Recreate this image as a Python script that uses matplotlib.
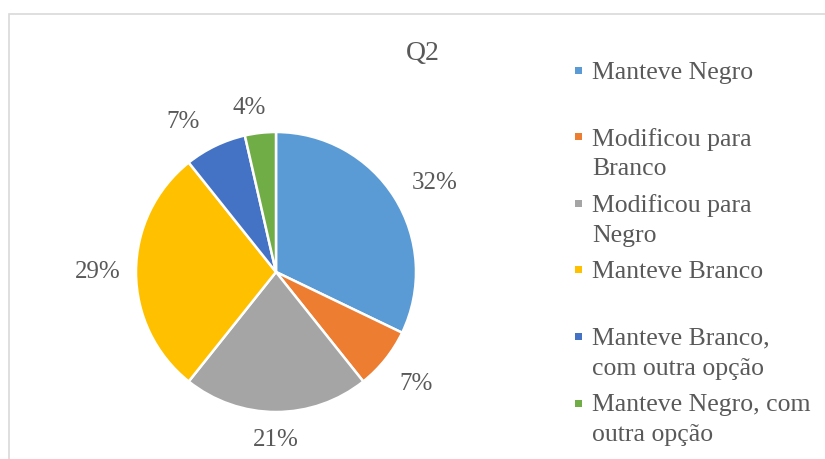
import matplotlib.pyplot as plt
import numpy as np
from matplotlib.patches import Rectangle

labels = ["Manteve Negro", "Modificou para\nBranco", "Modificou para\nNegro",
          "Manteve Branco", "Manteve Branco,\ncom outra opção",
          "Manteve Negro, com\noutra opção"]
counts = [9, 2, 6, 8, 2, 1]
colors = ["#5B9BD5", "#ED7D31", "#A5A5A5", "#FFC000", "#4472C4", "#70AD47"]

# label placement tweaks (distance in radii, angle shift in degrees)
label_dist = [1.30, 1.28, 1.20, 1.27, 1.26, 1.19]
label_shift = [-3, 0, 0, 0, 6, 3]

plt.rcParams['font.family'] = ['Liberation Serif', 'DejaVu Serif']
txt = "#595959"

W, H = 825, 459
fig = plt.figure(figsize=(W / 100, H / 100), dpi=100)

# chart area border (cropped at right and bottom)
fig.patches.append(Rectangle((8.5 / W, -0.1), 1.0, 1 - 14.5 / H + 0.1,
                             transform=fig.transFigure, fill=False,
                             edgecolor="#D9D9D9", linewidth=1.2))

cx, cy, r = 276, 272, 140
half = 150
ax = fig.add_axes([(cx - half) / W, (H - cy - half) / H, 2 * half / W, 2 * half / H])
wedges, _ = ax.pie(counts, colors=colors, startangle=90, counterclock=False,
                   radius=1, wedgeprops=dict(edgecolor="white", linewidth=1.8))
lim = half / r
ax.set_xlim(-lim, lim)
ax.set_ylim(-lim, lim)
ax.set_aspect("equal")

total = sum(counts)
for w, n, d, s in zip(wedges, counts, label_dist, label_shift):
    ang = np.deg2rad((w.theta1 + w.theta2) / 2 + s)
    ax.text(d * np.cos(ang), d * np.sin(ang), f"{round(100 * n / total)}%",
            ha="center", va="center", fontsize=18, color=txt)

fig.text(423 / W, 1 - 53 / H, "Q2", ha="center", va="center", fontsize=20, color=txt)

# legend
y0 = 70
step = 66.6
line_h = 30
for i, (lab, c) in enumerate(zip(labels, colors)):
    y = y0 + i * step
    fig.patches.append(Rectangle(((578 - 3.5) / W, 1 - (y + 3.5) / H), 7 / W, 7 / H,
                                 transform=fig.transFigure, facecolor=c, edgecolor="none"))
    for k, line in enumerate(lab.split("\n")):
        fig.text(592 / W, 1 - (y + k * line_h) / H, line, ha="left",
                 va="center_baseline", fontsize=18.5, color=txt)

fig.savefig("out.png", dpi=100)
